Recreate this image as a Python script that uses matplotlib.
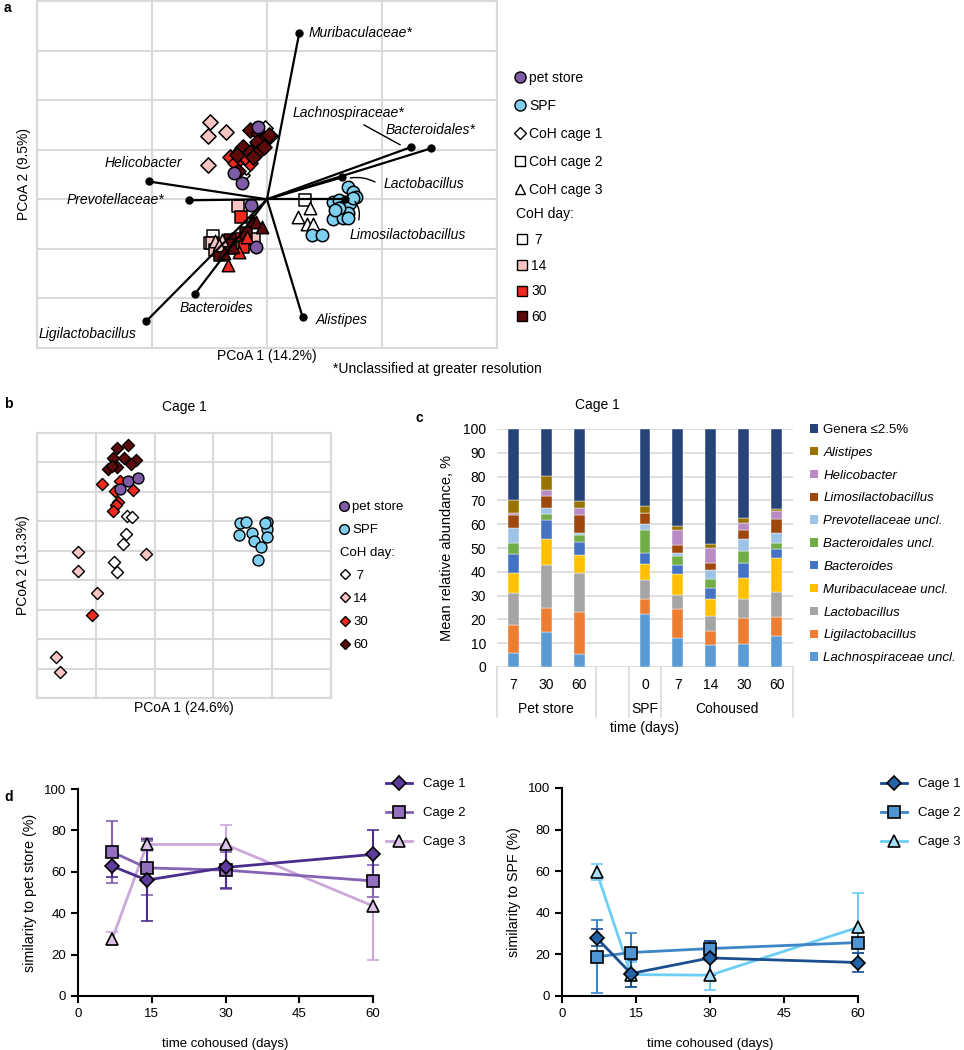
import matplotlib
matplotlib.use('Agg')
import matplotlib.pyplot as plt
from matplotlib.lines import Line2D
from matplotlib.patches import Patch
import numpy as np

plt.rcParams['font.family'] = ['Liberation Sans', 'DejaVu Sans']
plt.rcParams['font.size'] = 10

# ---------------- data: panel a (PCoA biplot, all cages) ----------------
a_pet = [(-0.008, 0.145), (-0.029, 0.054), (-0.022, 0.032), (-0.014, -0.012), (-0.010, -0.097)]
a_spf = [(0.070, 0.024), (0.075, 0.014), (0.077, 0.004), (0.057, -0.006), (0.063, -0.002),
         (0.066, -0.016), (0.072, -0.008), (0.062, -0.028), (0.070, -0.028), (0.057, -0.040),
         (0.066, -0.038), (0.075, 0.002), (0.039, -0.073), (0.048, -0.073), (0.063, -0.018),
         (0.059, -0.022), (0.070, -0.038)]
a_cage1 = {
    7: [(-0.002, 0.143), (0.003, 0.127), (-0.022, 0.048), (-0.018, 0.065)],
    14: [(-0.050, 0.155), (-0.036, 0.135), (-0.051, 0.127), (-0.051, 0.069)],
    30: [(-0.032, 0.085), (-0.025, 0.093), (-0.028, 0.073), (-0.015, 0.073), (-0.019, 0.085),
         (-0.022, 0.103)],
    60: [(-0.015, 0.139), (-0.008, 0.133), (-0.003, 0.123), (0.002, 0.129), (-0.009, 0.115),
         (-0.021, 0.105), (-0.026, 0.089), (-0.015, 0.095), (-0.008, 0.095), (-0.003, 0.105),
         (-0.025, 0.058), (-0.012, 0.085)],
}
a_cage2 = {
    7: [(0.033, -0.002), (-0.047, -0.075), (-0.050, -0.089)],
    14: [(-0.025, -0.014), (-0.048, -0.089), (-0.011, -0.081), (-0.045, -0.103)],
    30: [(-0.023, -0.036), (-0.025, -0.081), (-0.021, -0.097), (-0.030, -0.099)],
    60: [(-0.018, -0.069), (-0.032, -0.083), (-0.034, -0.093), (-0.041, -0.113)],
}
a_cage3 = {
    7: [(0.037, -0.018), (0.027, -0.036), (0.035, -0.050), (0.040, -0.050)],
    14: [(-0.039, -0.083), (-0.045, -0.085), (-0.042, -0.093)],
    30: [(-0.017, -0.077), (-0.024, -0.107), (-0.034, -0.133)],
    60: [(-0.013, -0.042), (-0.010, -0.046), (-0.004, -0.056), (-0.030, -0.097), (-0.037, -0.109)],
}
loading_names = ['Muribaculaceae*', 'Lachnospiraceae*', 'Bacteroidales*', 'Lactobacillus',
                 'Limosilactobacillus', 'Alistipes', 'Helicobacter', 'Prevotellaceae*',
                 'Bacteroides', 'Ligilactobacillus']
loading_x = [0.028, 0.125, 0.143, 0.065, 0.068, 0.031, -0.103, -0.068, -0.063, -0.105]
loading_y = [0.335, 0.105, 0.103, 0.044, 0.000, -0.238, 0.036, -0.002, -0.192, -0.246]

# ---------------- data: panel b (PCoA cage 1) ----------------
b_pet = [(-0.045, 0.237), (-0.028, 0.247), (-0.059, 0.210)]
b_spf = [(0.145, 0.094), (0.155, 0.097), (0.144, 0.053), (0.166, 0.060), (0.169, 0.033),
         (0.181, 0.012), (0.191, 0.097), (0.191, 0.073), (0.191, 0.046), (0.176, -0.032),
         (0.188, 0.094)]
b_cage1 = {
    7: [(-0.047, 0.118), (-0.038, 0.114), (-0.049, 0.056), (-0.054, 0.022), (-0.069, -0.039),
        (-0.064, -0.073)],
    14: [(-0.130, -0.005), (-0.015, -0.012), (-0.130, -0.069), (-0.098, -0.144),
         (-0.168, -0.362), (-0.161, -0.410)],
    30: [(-0.089, 0.227), (-0.059, 0.237), (-0.067, 0.203), (-0.037, 0.206), (-0.062, 0.165),
         (-0.066, 0.155), (-0.071, 0.135), (-0.106, -0.219)],
    60: [(-0.064, 0.349), (-0.045, 0.359), (-0.071, 0.315), (-0.052, 0.315), (-0.032, 0.308),
         (-0.079, 0.278), (-0.064, 0.284), (-0.040, 0.295), (-0.072, 0.288)],
}

# ---------------- data: panel c (stacked abundance, cage 1) ----------------
c_slots = [0, 1, 2, 4, 5, 6, 7, 8]
c_tick_labels = ['7', '30', '60', '0', '7', '14', '30', '60']
c_groups = ['Pet store', 'SPF', 'Cohoused']
c_taxa = ['Lachnospiraceae uncl.', 'Ligilactobacillus', 'Lactobacillus', 'Muribaculaceae uncl.',
          'Bacteroides', 'Bacteroidales uncl.', 'Prevotellaceae uncl.', 'Limosilactobacillus',
          'Helicobacter', 'Alistipes', 'Genera ≤2.5%']
c_values = [
    [6.0, 11.7, 13.5, 8.4, 7.7, 4.6, 6.5, 5.4, 0.7, 5.8, 29.7],
    [14.6, 10.3, 17.9, 10.9, 8.0, 2.4, 2.6, 5.3, 2.5, 5.6, 19.9],
    [5.5, 17.7, 16.4, 7.6, 5.3, 3.1, 0.8, 7.5, 2.7, 3.0, 30.4],
    [22.4, 6.2, 8.0, 6.8, 4.7, 9.4, 2.6, 4.7, 0.0, 2.7, 32.5],
    [12.3, 11.9, 6.1, 8.6, 3.9, 3.7, 1.5, 3.2, 6.3, 1.6, 40.9],
    [9.2, 5.9, 6.3, 7.2, 4.6, 3.6, 4.0, 2.9, 6.3, 1.8, 48.2],
    [9.5, 10.9, 8.0, 9.2, 5.9, 5.1, 5.3, 3.8, 3.0, 2.1, 37.2],
    [13.2, 7.7, 10.5, 14.2, 3.9, 2.6, 4.4, 5.5, 3.5, 1.0, 33.5],
]
c_colors = ['#5B9BD5', '#ED7D31', '#A5A5A5', '#FFC000', '#4472C4', '#70AD47', '#9DC3E6',
            '#9E480E', '#B88BC5', '#997300', '#264478']

# ---------------- data: panel d (similarity over time) ----------------
d_days = [7, 14, 30, 60]
pet_mean = {'Cage 1': [62.7, 56.0, 62.1, 68.4], 'Cage 2': [69.5, 61.9, 60.8, 55.6],
            'Cage 3': [27.7, 73.2, 73.2, 43.5]}
pet_sd = {'Cage 1': [5.0, 19.7, 10.0, 11.6], 'Cage 2': [14.9, 13.0, 9.0, 7.8],
          'Cage 3': [3.0, 3.2, 9.3, 26.1]}
spf_mean = {'Cage 1': [28.0, 10.8, 18.3, 16.1], 'Cage 2': [18.8, 20.9, 22.8, 25.7],
            'Cage 3': [59.8, 10.3, 10.0, 33.0]}
spf_sd = {'Cage 1': [4.0, 6.5, 8.0, 4.5], 'Cage 2': [17.5, 9.2, 3.5, 5.0],
          'Cage 3': [3.8, 6.0, 7.0, 16.7]}

# ---------------- styles ----------------
W, H = 964, 1050
PURPLE = '#7D5BA6'
CYAN = '#7FD0F0'
DAY_COLORS = {7: 'white', 14: '#F9C4C4', 30: '#EE2A20', 60: '#5C0A0A'}
GRID = '#D9D9D9'

fig = plt.figure(figsize=(W / 100, H / 100), dpi=100)


def px_axes(x0, y0, x1, y1):
    return fig.add_axes([x0 / W, 1 - y1 / H, (x1 - x0) / W, (y1 - y0) / H])


def grid_style(ax, xt, yt):
    ax.set_xticks(xt)
    ax.set_yticks(yt)
    ax.grid(color=GRID, lw=1.5)
    ax.set_axisbelow(True)
    ax.tick_params(length=0, labelleft=False, labelbottom=False)
    for s in ax.spines.values():
        s.set_color(GRID)
        s.set_linewidth(1.5)


def xy(points):
    pts = np.array(points)
    return pts[:, 0], pts[:, 1]


# ================= panel a =================
ax = px_axes(37, 1, 497, 348)
ax.set_xlim(-0.2, 0.2)
ax.set_ylim(-0.3, 0.4)
grid_style(ax, np.linspace(-0.2, 0.2, 5), np.linspace(-0.3, 0.4, 8))

for cage, marker, ms in [(a_cage1, 'D', 60), (a_cage2, 's', 75), (a_cage3, '^', 80)]:
    for day in [7, 14, 30, 60]:
        x, y = xy(cage[day])
        ax.scatter(x, y, marker=marker, s=ms, c=DAY_COLORS[day], edgecolors='k',
                   linewidths=1.1, zorder=3)
for pts, col in [(a_pet, PURPLE), (a_spf, CYAN)]:
    x, y = xy(pts)
    ax.scatter(x, y, marker='o', s=80, c=col, edgecolors='k', linewidths=1.1, zorder=3)

for name, lx, ly in zip(loading_names, loading_x, loading_y):
    ax.plot([0, lx], [0, ly], color='k', lw=1.6, zorder=5)
    ax.plot(lx, ly, 'o', color='k', ms=5, zorder=6)

lab = dict(fontsize=10, style='italic', va='center', zorder=7)
ax.text(0.036, 0.335, 'Muribaculaceae*', ha='left', **lab)
ax.text(0.022, 0.175, 'Lachnospiraceae*', ha='left', **lab)
ax.text(0.103, 0.139, 'Bacteroidales*', ha='left', **lab)
ax.text(0.101, 0.030, 'Lactobacillus', ha='left', **lab)
ax.text(0.072, -0.073, 'Limosilactobacillus', ha='left', **lab)
ax.text(0.042, -0.244, 'Alistipes', ha='left', **lab)
ax.text(-0.074, 0.073, 'Helicobacter', ha='right', **lab)
ax.text(-0.089, -0.002, 'Prevotellaceae*', ha='right', **lab)
ax.text(-0.076, -0.220, 'Bacteroides', ha='left', **lab)
ax.text(-0.199, -0.272, 'Ligilactobacillus', ha='left', **lab)
ax.annotate('', xy=(0.118, 0.107), xytext=(0.082, 0.153),
            arrowprops=dict(arrowstyle='-', color='k', lw=1.0))
ax.annotate('', xy=(0.070, 0.042), xytext=(0.096, 0.032),
            arrowprops=dict(arrowstyle='-', color='k', lw=1.0, connectionstyle='arc3,rad=0.2'))
ax.annotate('', xy=(0.075, 0.000), xytext=(0.079, -0.047),
            arrowprops=dict(arrowstyle='-', color='k', lw=1.0, connectionstyle='arc3,rad=0.3'))

ax.set_xlabel('PCoA 1 (14.2%)', fontsize=10, labelpad=1)
ax.set_ylabel('PCoA 2 (9.5%)', fontsize=10, labelpad=4)

h1 = [Line2D([], [], ls='none', marker='o', mfc=PURPLE, mec='k', ms=8, label='pet store'),
      Line2D([], [], ls='none', marker='o', mfc=CYAN, mec='k', ms=8, label='SPF'),
      Line2D([], [], ls='none', marker='D', mfc='white', mec='k', ms=6, label='CoH cage 1'),
      Line2D([], [], ls='none', marker='s', mfc='white', mec='k', ms=7, label='CoH cage 2'),
      Line2D([], [], ls='none', marker='^', mfc='white', mec='k', ms=7, label='CoH cage 3')]
leg = ax.legend(handles=h1, loc='upper left', bbox_to_anchor=(514 / W, 1 - 71 / H),
                bbox_transform=fig.transFigure, frameon=False, borderpad=0, borderaxespad=0,
                handlelength=0.8, handletextpad=0.3, labelspacing=1.0, fontsize=10)
ax.add_artist(leg)
h2 = [Line2D([], [], ls='none', marker='s', mfc=DAY_COLORS[d], mec='k', ms=7,
             label=(' ' + str(d)) if d == 7 else str(d)) for d in [7, 14, 30, 60]]
leg2 = ax.legend(handles=h2, title='CoH day:', loc='upper left',
                 bbox_to_anchor=(516 / W, 1 - 207 / H), bbox_transform=fig.transFigure,
                 frameon=False, borderpad=0, borderaxespad=0, handlelength=0.8,
                 handletextpad=0.3, labelspacing=0.85, fontsize=10, title_fontsize=10,
                 alignment='left')

fig.text(333 / W, 1 - 369 / H, '*Unclassified at greater resolution', fontsize=10, va='center')

# ================= panel b =================
ax = px_axes(37, 433, 331, 698)
ax.set_xlim(-0.2, 0.3)
ax.set_ylim(-0.5, 0.4)
grid_style(ax, np.linspace(-0.2, 0.3, 6), np.linspace(-0.5, 0.4, 10))
for day in [7, 14, 30, 60]:
    x, y = xy(b_cage1[day])
    ax.scatter(x, y, marker='D', s=38, c=DAY_COLORS[day], edgecolors='k', linewidths=1.0,
               zorder=3)
for pts, col in [(b_pet, PURPLE), (b_spf, CYAN)]:
    x, y = xy(pts)
    ax.scatter(x, y, marker='o', s=62, c=col, edgecolors='k', linewidths=1.0, zorder=3)
ax.set_title('Cage 1', fontsize=10, pad=16)
ax.set_xlabel('PCoA 1 (24.6%)', fontsize=10, labelpad=2)
ax.set_ylabel('PCoA 2 (13.3%)', fontsize=10, labelpad=5)

hb1 = [Line2D([], [], ls='none', marker='o', mfc=PURPLE, mec='k', ms=7, label='pet store'),
       Line2D([], [], ls='none', marker='o', mfc=CYAN, mec='k', ms=7, label='SPF')]
legb = ax.legend(handles=hb1, loc='upper left', bbox_to_anchor=(339 / W, 1 - 501 / H),
                 bbox_transform=fig.transFigure, frameon=False, borderpad=0, borderaxespad=0,
                 handlelength=0.7, handletextpad=0.3, labelspacing=0.82, fontsize=9.5)
ax.add_artist(legb)
hb2 = [Line2D([], [], ls='none', marker='D', mfc=DAY_COLORS[d], mec='k', ms=5,
              label=(' ' + str(d)) if d == 7 else str(d)) for d in [7, 14, 30, 60]]
ax.legend(handles=hb2, title='CoH day:', loc='upper left', bbox_to_anchor=(340 / W, 1 - 547 / H),
          bbox_transform=fig.transFigure, frameon=False, borderpad=0, borderaxespad=0,
          handlelength=0.7, handletextpad=0.3, labelspacing=0.82, fontsize=9.5,
          title_fontsize=9.5, alignment='left')

# ================= panel c =================
ax = px_axes(497, 429, 793, 667)
vals = np.array(c_values)
bottom = np.zeros(len(c_slots))
for i, (taxon, col) in enumerate(zip(c_taxa, c_colors)):
    ax.bar(c_slots, vals[:, i], bottom=bottom, width=0.33, color=col, edgecolor='white',
           linewidth=0.3, label=taxon, zorder=3)
    bottom += vals[:, i]
ax.set_xlim(-0.5, 8.5)
ax.set_ylim(0, 100)
ax.set_yticks(np.arange(0, 101, 10))
ax.set_xticks(c_slots)
ax.set_xticklabels(c_tick_labels, fontsize=10)
ax.tick_params(axis='y', length=0, labelsize=10, pad=8)
ax.tick_params(axis='x', length=0, pad=8)
ax.yaxis.grid(True, color=GRID, lw=1.2)
ax.set_axisbelow(True)
for s in ax.spines.values():
    s.set_visible(False)
for xb in [-0.5, 2.5, 3.5, 4.5, 8.5]:
    ax.axvline(xb, ymin=-0.21, ymax=0, color=GRID, lw=1.2, clip_on=False)
trans = ax.get_xaxis_transform()
for label, xc in zip(c_groups, [1, 4, 6.5]):
    ax.text(xc, -0.176, label, transform=trans, ha='center', va='center', fontsize=10)
ax.text(4, -0.256, 'time (days)', transform=trans, ha='center', va='center', fontsize=10)
ax.set_ylabel('Mean relative abundance, %', fontsize=10.5, labelpad=6)
fig.text(597 / W, 1 - 405 / H, 'Cage 1', fontsize=10, ha='center', va='center')

hc = [Patch(facecolor=col, label=t) for t, col in zip(c_taxa, c_colors)][::-1]
legc = ax.legend(handles=hc, loc='upper left', bbox_to_anchor=(810 / W, 1 - 424 / H),
                 bbox_transform=fig.transFigure, frameon=False, borderpad=0, borderaxespad=0,
                 handlelength=0.6, handleheight=0.6, handletextpad=0.4, labelspacing=0.82,
                 fontsize=9.5)
for t in legc.get_texts():
    if not t.get_text().startswith('Genera'):
        t.set_fontstyle('italic')

# ================= panel d =================
d_styles_pet = {'Cage 1': ('#4B2D8F', '#5B3C9C', 'D', 7),
                'Cage 2': ('#8462B4', '#936FC0', 's', 8),
                'Cage 3': ('#CBA8DA', '#DCC2E6', '^', 8)}
d_styles_spf = {'Cage 1': ('#1A4E8E', '#2363A8', 'D', 7),
                'Cage 2': ('#3D85C7', '#4F95D4', 's', 8),
                'Cage 3': ('#6DCEF5', '#A6E1F8', '^', 8)}


def similarity_panel(rect, means, sds, styles, ylabel, legend_x):
    ax = px_axes(*rect)
    for cage in ['Cage 3', 'Cage 2', 'Cage 1']:
        line_c, fill_c, mk, ms = styles[cage]
        ax.errorbar(d_days, means[cage], yerr=sds[cage], color=line_c, lw=2, marker=mk,
                    mfc=fill_c, mec='k', ms=ms, mew=1.2, capsize=4, elinewidth=1.5,
                    capthick=1.5, clip_on=False, zorder=3)
    ax.set_xlim(0, 60)
    ax.set_ylim(0, 100)
    ax.set_xticks([0, 15, 30, 45, 60])
    ax.set_yticks(np.arange(0, 101, 20))
    for s in ['top', 'right']:
        ax.spines[s].set_visible(False)
    for s in ['left', 'bottom']:
        ax.spines[s].set_linewidth(1.5)
    ax.tick_params(length=5, width=1.5, labelsize=9.5)
    ax.set_xlabel('time cohoused (days)', fontsize=9.5, labelpad=13)
    ax.set_ylabel(ylabel, fontsize=10.3, labelpad=5)
    handles = [Line2D([], [], color=styles[c][0], lw=2, marker=styles[c][2],
                      mfc=styles[c][1], mec='k', ms=styles[c][3], mew=1.2, label=c)
               for c in ['Cage 1', 'Cage 2', 'Cage 3']]
    ax.legend(handles=handles, loc='upper left', bbox_to_anchor=(legend_x / W, 1 - 778 / H),
              bbox_transform=fig.transFigure, frameon=False, borderpad=0, borderaxespad=0,
              handlelength=2.0, handletextpad=0.8, labelspacing=1.28, fontsize=9.5)


similarity_panel((78, 789, 373, 996), pet_mean, pet_sd, d_styles_pet,
                 'similarity to pet store (%)', 386)
similarity_panel((562, 788, 858, 996), spf_mean, spf_sd, d_styles_spf,
                 'similarity to SPF (%)', 881)

# panel letters
for letter, x, y in [('a', 4, 8), ('b', 4, 404), ('c', 415, 418), ('d', 4, 797)]:
    fig.text(x / W, 1 - y / H, letter, fontsize=10, fontweight='bold', va='center')

fig.savefig('out.png', dpi=100)
